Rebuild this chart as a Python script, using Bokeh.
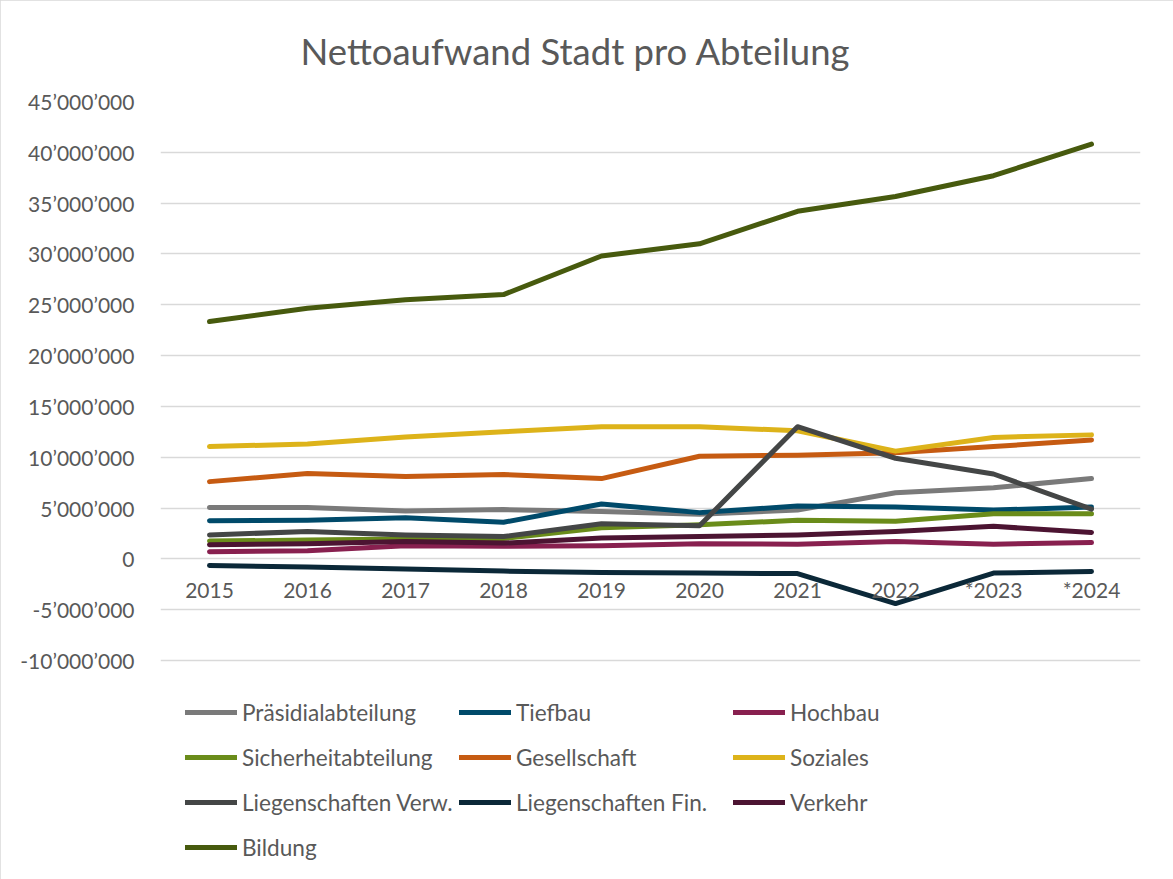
from bokeh.plotting import figure
from bokeh.models import (FactorRange, Range1d, Legend, LegendItem, CustomJSTickFormatter,
                          ColumnDataSource)
from bokeh.embed import file_html
from bokeh.resources import INLINE

years = ["2015", "2016", "2017", "2018", "2019", "2020", "2021", "2022", "*2023", "*2024"]

praesidial   = [5050000, 5050000, 4700000, 4850000, 4650000, 4400000, 4800000, 6500000, 7000000, 7900000]
tiefbau      = [3750000, 3800000, 4050000, 3600000, 5400000, 4550000, 5200000, 5100000, 4800000, 5100000]
hochbau      = [700000, 800000, 1300000, 1250000, 1300000, 1500000, 1450000, 1700000, 1450000, 1600000]
sicherheit   = [1750000, 1850000, 1950000, 2000000, 3050000, 3350000, 3800000, 3700000, 4450000, 4450000]
gesellschaft = [7600000, 8400000, 8100000, 8300000, 7900000, 10100000, 10200000, 10450000, 11050000, 11700000]
soziales     = [11050000, 11300000, 12000000, 12500000, 13000000, 13000000, 12600000, 10600000, 11950000, 12200000]
lieg_verw    = [2350000, 2700000, 2350000, 2200000, 3450000, 3250000, 13000000, 9900000, 8350000, 4900000]
lieg_fin     = [-650000, -800000, -1000000, -1200000, -1350000, -1400000, -1450000, -4400000, -1400000, -1250000]
verkehr      = [1400000, 1500000, 1700000, 1550000, 2050000, 2200000, 2350000, 2700000, 3200000, 2600000]
bildung      = [23350000, 24650000, 25500000, 26000000, 29800000, 31000000, 34200000, 35650000, 37700000, 40800000]

series_names = ["Präsidialabteilung", "Tiefbau", "Hochbau", "Sicherheitabteilung", "Gesellschaft",
                "Soziales", "Liegenschaften Verw.", "Liegenschaften Fin.", "Verkehr", "Bildung"]
series_values = [praesidial, tiefbau, hochbau, sicherheit, gesellschaft,
                 soziales, lieg_verw, lieg_fin, verkehr, bildung]
series_colors = ["#7a7a7a", "#004a6a", "#88204f", "#6a8c1a", "#c65b12",
                 "#ddb31a", "#444646", "#0b2838", "#4c1432", "#475a0e"]

y_ticks = list(range(-10000000, 45000001, 5000000))

FONT = "Lato"
TXT = "#595959"

# frame extends below the -10M gridline so that the legend can sit inside it
p = figure(frame_width=980, frame_height=769,
           x_range=FactorRange(factors=years, range_padding=0),
           y_range=Range1d(-30660000, 45000000), output_backend="svg", toolbar_location=None,
           title="Nettoaufwand Stadt pro Abteilung")
p.min_border_left = 160
p.min_border_right = 33
p.min_border_top = 101
p.min_border_bottom = 9
p.outline_line_color = None
p.styles = {"outline": "2px solid #d9d9d9", "outline-offset": "-2px"}

p.title.align = "left"
p.title.offset = 140
p.title.text_font = FONT
p.title.text_font_size = "36.5px"
p.title.text_font_style = "normal"
p.title.text_color = TXT
p.title.vertical_align = "top"
p.title.standoff = 54

p.yaxis.ticker = y_ticks
p.yaxis.formatter = CustomJSTickFormatter(code="""
const s = Math.abs(tick).toString().replace(/\\B(?=(\\d{3})+(?!\\d))/g, '\u2019');
return (tick < 0 ? '-' : '') + s;
""")
for ax in (p.xaxis, p.yaxis):
    ax.axis_line_color = None
    ax.major_tick_line_color = None
    ax.minor_tick_line_color = None
    ax.major_tick_out = 0
    ax.major_tick_in = 0
    ax.major_label_text_font = FONT
    ax.major_label_text_font_size = "21px"
    ax.major_label_text_color = TXT
p.yaxis.major_label_standoff = 26
p.xaxis.fixed_location = 0
p.xaxis.major_label_standoff = 18

p.xgrid.grid_line_color = None
p.ygrid.grid_line_color = "#d9d9d9"
p.ygrid.grid_line_width = 1.5

items = []
for name, vals, col in zip(series_names, series_values, series_colors):
    src = ColumnDataSource(dict(x=years, y=vals))
    r = p.line("x", "y", source=src, line_color=col, line_width=5,
               line_cap="round", line_join="round")
    items.append(LegendItem(label=name, renderers=[r]))

legend = Legend(items=items, orientation="horizontal", ncols=3,
                label_text_font=FONT, label_text_font_size="22.6px", label_text_color=TXT,
                glyph_width=52, glyph_height=40, label_standoff=5, label_width=212,
                spacing=5, padding=0, margin=0, border_line_color=None,
                background_fill_alpha=0, location=(25, 3))
p.add_layout(legend)

open("out.html", "w").write(file_html(p, INLINE))
